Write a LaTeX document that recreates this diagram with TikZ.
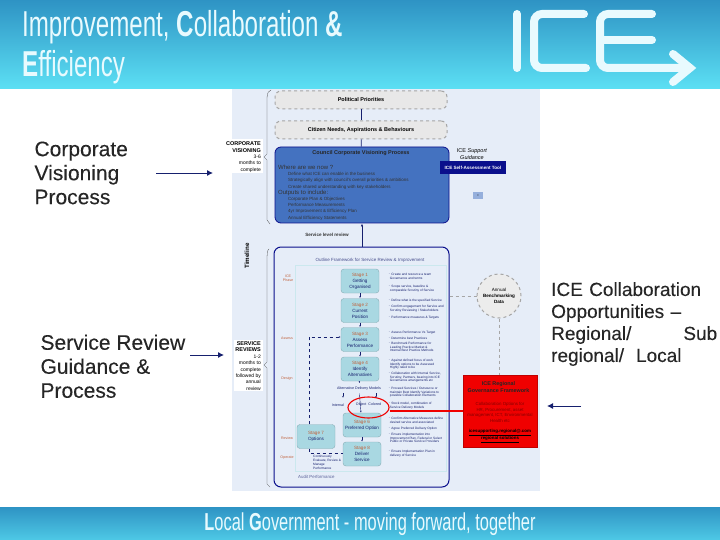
\documentclass[tikz,border=0pt]{standalone}
\usepackage{fontspec}
\setmainfont{Liberation Sans}
\newfontfamily\slidefont[FakeStretch=0.67]{Liberation Sans}
\newfontfamily\heavyfont[FakeBold=0.2]{Liberation Sans}
\usetikzlibrary{positioning,arrows.meta,calc,shapes.geometric}
\definecolor{ink}{HTML}{16206E}
\definecolor{panel}{HTML}{E6EDF8}
\definecolor{barblue}{HTML}{2E93C4}
\definecolor{barlight}{HTML}{5CE0F4}
\definecolor{councilblue}{HTML}{4472C0}
\definecolor{navy}{HTML}{0A0F8C}
\definecolor{stagefill}{HTML}{A9D8E2}
\definecolor{iceglow}{HTML}{E8FAFE}
\definecolor{dashgrey}{HTML}{A6A6A6}
\definecolor{icered}{HTML}{F00000}
\definecolor{tagbrown}{HTML}{C0603A}
\tikzset{
  slidetext/.style={align=left,anchor=north west,text=black!85,font=\fontsize{21}{24}\selectfont\heavyfont},
  sidelbl/.style={align=right,anchor=east,inner sep=0pt,font=\fontsize{5}{6.4}\selectfont},
  dashbox/.style={draw=dashgrey,fill=gray!18,dashed,line width=1pt,rounded corners=6pt,font=\fontsize{5.5}{6}\selectfont\bfseries},
  stagebox/.style={draw=stagefill!80!black,fill=stagefill,rounded corners=3pt,minimum width=38pt,minimum height=24pt,inner sep=0pt,align=center,font=\fontsize{4.6}{6}\selectfont,text=ink},
  notes/.style={align=left,anchor=north west,inner sep=0pt,font=\fontsize{3.2}{3.9}\selectfont,text=ink},
  tag/.style={font=\fontsize{3.6}{4.5}\selectfont,text=tagbrown,align=center},
  logoline/.style={iceglow,line width=8pt,line cap=round},
  flow/.style={-{Latex[length=3pt]},draw=ink,line width=.8pt},
  thinflow/.style={-{Latex[length=2pt]},draw=ink,line width=.4pt},
  pointer/.style={-{Latex[length=6pt,width=6pt]},draw=ink,line width=.9pt}}
\begin{document}
\begin{tikzpicture}[x=1pt,y=-1pt]
  \useasboundingbox (0,0) rectangle (720,540);
  % slide bars
  \shade[top color=barblue,bottom color=barlight] (0,0) rectangle (720,89);
  \shade[top color=barblue,bottom color=barlight!70!barblue] (0,507) rectangle (720,540);
  \node[anchor=west,inner sep=0pt,text=iceglow,font=\fontsize{36}{40}\selectfont\slidefont,align=left] (title) at (22,47) {Improvement, \textbf{C}ollaboration \textbf{\&}\\\textbf{E}fficiency};
  \node[text=iceglow,font=\fontsize{24.5}{26}\selectfont\slidefont] (strap) at (370,524) {\textbf{L}ocal \textbf{G}overnment - moving forward, together};
  % logo
  \draw[logoline] (517,14)--(517,68);
  \draw[logoline,rounded corners=8pt] (584,14)--(534,14)--(534,68)--(586,68);
  \draw[logoline,rounded corners=8pt] (652,14)--(600,14)--(600,68)--(690,68);
  \draw[logoline] (602,40)--(652,40);
  \draw[logoline] (673,54)--(690,68)--(673,82);
  % left and right labels
  \node[slidetext] (corp) at (31,138) {Corporate\\Visioning\\Process};
  \node[slidetext] (srv) at (37,331) {Service Review\\Guidance \&\\Process};
  \node[slidetext,anchor=north west,text width=166pt,inner sep=0pt,font=\fontsize{19}{22}\selectfont\heavyfont] (collab) at (551,282) {ICE Collaboration\\Opportunities –\\Regional/\hfill Sub\\regional/\hspace{12pt}Local};
  % panel
  \fill[panel] (232,89) rectangle (540,491);
  \node[dashbox,minimum width=172pt,minimum height=18pt] (pol) at (361,100) {Political Priorities};
  \node[dashbox,minimum width=172pt,minimum height=18pt] (cit) at (361,130) {Citizen Needs, Aspirations \& Behaviours};
  \node[draw=navy,fill=councilblue,line width=.8pt,rounded corners=6pt,minimum width=174pt,minimum height=76pt] (council) at (362,185) {};
  \node[font=\fontsize{5.5}{6}\selectfont\bfseries,text=black!85] (counciltitle) at (361,153) {Council Corporate Visioning Process};
  \node[anchor=north west,inner sep=0pt,align=left,font=\fontsize{4.5}{6.2}\selectfont,text=black!80] (councilnotes) at (278,165) {{\fontsize{6}{6.2}\selectfont Where are we now ?}\\
    \hspace{10pt}Define what ICE can enable in the business\\
    \hspace{10pt}Strategically align with council's overall priorities \& ambitions\\
    \hspace{10pt}Create shared understanding with key stakeholders\\
    {\fontsize{6}{6.2}\selectfont Outputs to include:}\\
    \hspace{10pt}Corporate Plan \& Objectives\\
    \hspace{10pt}Performance Measurements\\
    \hspace{10pt}4yr Improvement \& Efficiency Plan\\
    \hspace{10pt}Annual Efficiency Statements};
  \draw[ink,line width=.8pt] (pol)--(cit);
  \draw[ink,line width=.8pt] (cit)--(council);
  % support
  \node[font=\fontsize{5.5}{7}\selectfont,align=center] (support) at (472,154) {ICE \textit{Support}\\\textit{Guidance}};
  \node[fill=navy,text=white,font=\fontsize{4.6}{5}\selectfont\bfseries,minimum width=66pt,minimum height=13pt,inner sep=0pt] (tool) at (473,168) {ICE Self-Assessment Tool};
  \node[fill=councilblue!50!panel,font=\fontsize{3}{4}\selectfont,minimum width=10pt,minimum height=7pt,inner sep=0pt] (mini) at (478,196) {=};
  % side labels
  \fill[white] (223,139) rectangle (263,173);
  \node[sidelbl] (vision) at (261,157) {\bfseries\fontsize{5.5}{6.4}\selectfont CORPORATE\\\bfseries\fontsize{5.5}{6.4}\selectfont VISIONING\\3-6\\months to\\complete};
  \draw[black!70,line width=.3pt] (271,90) .. controls (266,91) and (267,100) .. (267,110)--(267,154)--(264,157)--(267,160)--(267,220)--(270,224);
  \node[rotate=90,font=\fontsize{6.2}{6}\selectfont\bfseries] (timeline) at (247,256) {Timeline};
  \fill[white] (234,340) rectangle (263,391);
  \node[sidelbl] (reviews) at (261,366) {\bfseries\fontsize{5.5}{6.4}\selectfont SERVICE\\\bfseries\fontsize{5.5}{6.4}\selectfont REVIEWS\\1-2\\months to\\complete\\followed by\\annual\\review};
  \draw[black!70,line width=.3pt] (269,249) .. controls (267,250) and (267,255) .. (267,262)--(267,362)--(264,365)--(267,368)--(267,484)--(270,487);
  % service level
  \node[font=\fontsize{4.6}{6}\selectfont\bfseries,text=black!80] (levelrev) at (327,235) {Service level review};
  \node[draw=navy,line width=1pt,rounded corners=7pt,minimum width=175pt,minimum height=240pt] (frame) at (361.5,367) {};
  \draw[flow] (frame.north-|council)--(council.south);
  \node[font=\fontsize{4.5}{5}\selectfont,text=ink!80] (frametitle) at (370,260) {Outline Framework for Service Review \& Improvement};
  \node[draw=stagefill!60!white,fill=panel,minimum width=151pt,minimum height=206pt,inner sep=0pt] (inner) at (370.5,368) {};
  % stages
  \node[stagebox] (s5) at (360,281) {\textcolor{tagbrown}{Stage 1}\\Getting\\Organised};
  \node[stagebox] (s2) at (360,310.5) {\textcolor{tagbrown}{Stage 2}\\Current\\Position};
  \node[stagebox] (s3) at (360,339.5) {\textcolor{tagbrown}{Stage 3}\\Assess\\Performance};
  \node[stagebox] (s4) at (360,369) {\textcolor{tagbrown}{Stage 4}\\Identify\\Alternatives};
  \node[stagebox] (s6) at (362,425) {\textcolor{tagbrown}{Stage 6}\\Preferred Option};
  \node[stagebox] (s7) at (316,436.5) {\textcolor{tagbrown}{Stage 7}\\Options};
  \node[stagebox] (s8) at (362,454) {\textcolor{tagbrown}{Stage 8}\\Deliver\\Service};
  \foreach \a/\b in {s5/s2,s2/s3,s3/s4,s6/s8} \draw[thinflow] (\a)--(\b);
  \node[font=\fontsize{3.6}{5}\selectfont,text=ink] (altmodels) at (359,388.5) {Alternative Delivery Models};
  \node[font=\fontsize{3.6}{5}\selectfont,text=ink,anchor=east,inner sep=0pt] (inhouse) at (344,405) {Internal};
  \node[font=\fontsize{3.6}{5}\selectfont,text=ink,inner sep=0pt] (options) at (368.5,405) {Object\ \ Colored};
  \draw[thinflow] (s4)--(altmodels);
  \draw[thinflow] (altmodels)--(s6);
  \node[ellipse,draw=icered,line width=1.1pt,minimum width=41pt,minimum height=21pt,inner sep=0pt] (oval) at (368.5,407.5) {};
  \coordinate (forka) at (343,393);
  \coordinate (forkb) at (376,393);
  \draw[thinflow] (forka)--++(0,5);
  \draw[thinflow] (forkb)--++(0,5);
  \coordinate (loopb) at (309,337);
  \draw[thinflow,dashed] (s7.north-|loopb)--(loopb)--(s3.west|-loopb);
  \coordinate (reviewturn) at (309,453);
  \draw[ink,line width=.4pt,dashed] (s7.south-|reviewturn)--(reviewturn)--(s8.west|-reviewturn);
  % tags
  \node[tag] (tagice) at (288,278.5) {ICE\\Phase};
  \node[tag] (tagassess) at (287,338) {Assess};
  \node[tag] (tagdesign) at (287,379) {Design};
  \node[tag] (tagreview) at (287,438) {Review};
  \node[tag] (tagoperate) at (287,458) {Operate};
  % notes
  \foreach \y/\t [count=\i] in {
    272.5/{$\cdot$ Create and resource a team\\\ \ Governance and terms},
    284.5/{$\cdot$ Scope service, baseline \&\\\ \ comparable Scrutiny of Service},
    298.5/{$\cdot$ Define what is the specified Service},
    304.5/{$\cdot$ Confirm engagement for Service and\\\ \ Scrutiny Reviewing / Stakeholders},
    315.5/{$\cdot$ Performance measures \& Targets},
    330.5/{$\cdot$ Assess Performance Vs Target},
    336.5/{$\cdot$ Determine best Practices},
    341.5/{$\cdot$ Benchmark Performance for\\\ \ Leading Practice Market \&\\\ \ Internal Best Practice Methods},
    358.5/{$\cdot$ Against defined focus of work\\\ \ Identify options to be Assessed\\\ \ Highly rated to be},
    371.5/{$\cdot$ Collaboration with Internal Service,\\\ \ Scrutiny, Partners, bearing into ICE\\\ \ Governance arrangements etc},
    386.5/{$\cdot$ Proceed Services / Outsource or\\\ \ maintain Best Identify Variations to\\\ \ possible Collaboration Elements},
    401.5/{$\cdot$ Stock model, combination of\\\ \ Service Delivery Models},
    416.5/{$\cdot$ Confirm Alternative Measures define\\\ \ desired service and associated},
    426.5/{$\cdot$ Agree Preferred Delivery Option},
    432.5/{$\cdot$ Ensure implementation into\\\ \ Improvement Plan, Federal or Select\\\ \ Public or Private Service Providers},
    449.5/{$\cdot$ Ensure Implementation Plan in\\\ \ delivery of Service}}
    \node[notes] (note\i) at (388,\y) {\t};
  \node[font=\fontsize{3.2}{4}\selectfont,text=ink,align=left,anchor=north west,inner sep=0pt] (cont) at (313,455) {Continuously\\Evaluate, Review \&\\Manage\\Performance};
  \node[font=\fontsize{4.4}{5}\selectfont,text=ink!70,anchor=west,inner sep=0pt] (audit) at (298,477) {Audit Performance};
  % benchmarking
  \node[circle,draw=dashgrey,fill=gray!15,dashed,line width=1pt,minimum size=44pt,inner sep=0pt,align=center,font=\fontsize{4.6}{6}\selectfont] (bench) at (499,296) {Annual\\\textbf{Benchmarking}\\\textbf{Data}};
  \node[fill=icered,draw=icered!80!black,minimum width=74pt,minimum height=72pt,inner sep=0pt] (gov) at (500,411) {};
  \node[font=\fontsize{5.4}{7}\selectfont\bfseries,text=black!85,align=center] (govtitle) at (498.5,387.5) {ICE Regional\\Governance Framework};
  \node[font=\fontsize{4.4}{5.6}\selectfont,text=icered!55!black,align=center] (govbody) at (500,412.5) {Collaboration Options for\\HR, Procurement, asset\\management, ICT, Environmental\\Health etc};
  \node[font=\fontsize{4.4}{6}\selectfont\bfseries,text=black,align=center] (govlink) at (500,436) {\underline{icesupporting.regional@.com}\\\underline{regional solutions}};
  \draw[dashgrey,dashed,line width=1pt] (frame.east|-bench)--(bench);
  \draw[dashgrey,dashed,line width=1pt] (bench)--(gov.north-|bench);
  \draw[icered,line width=1.1pt] (oval.east|-gov)--(gov.west);
  % pointers
  \coordinate (corpfree) at (156,173);
  \coordinate (corptip) at (213,173);
  \coordinate (srvfree) at (190,355);
  \coordinate (srvtip) at (224,355);
  \coordinate (rightfree) at (581,406);
  \coordinate (righttip) at (547,406);
  \draw[pointer] (corpfree)--(corptip);
  \draw[pointer] (srvfree)--(srvtip);
  \draw[pointer] (rightfree)--(righttip);
\end{tikzpicture}
\end{document}
